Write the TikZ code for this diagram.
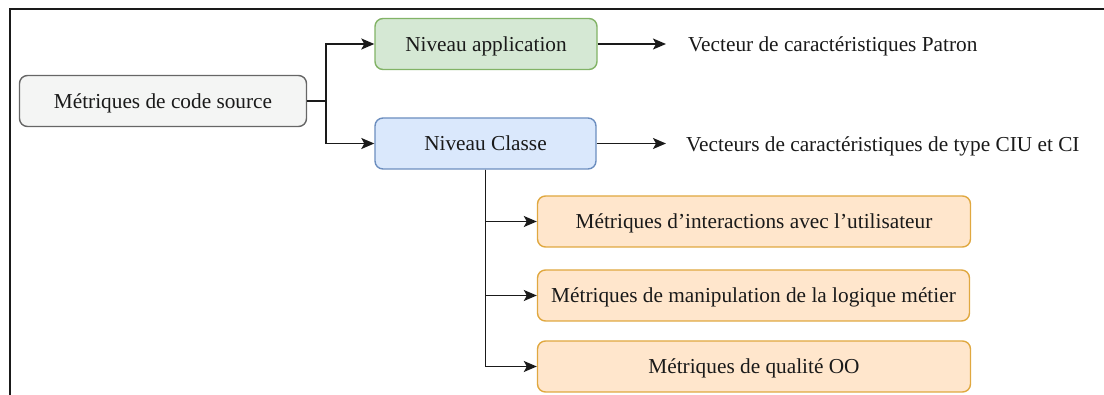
\documentclass[tikz,border=0pt]{standalone}
\usepackage{fontspec}
\setmainfont{Liberation Serif}
\usetikzlibrary{arrows.meta}
\definecolor{txt}{HTML}{1A1A1A}
\definecolor{grayfill}{HTML}{F4F5F4}
\definecolor{graydraw}{HTML}{666666}
\definecolor{greenfill}{HTML}{D5E8D4}
\definecolor{greendraw}{HTML}{82B366}
\definecolor{bluefill}{HTML}{DAE8FC}
\definecolor{bluedraw}{HTML}{6C8EBF}
\definecolor{orangefill}{HTML}{FFE6CC}
\definecolor{orangedraw}{HTML}{E0A840}
\tikzset{
  box/.style={rectangle, rounded corners=8pt, line width=1.4pt, minimum height=51pt, inner sep=0pt, text height=15pt, text depth=0pt, text=txt, font=\fontsize{21.3}{25}\selectfont},
  graybox/.style={box, fill=grayfill, draw=graydraw},
  greenbox/.style={box, fill=greenfill, draw=greendraw},
  bluebox/.style={box, fill=bluefill, draw=bluedraw},
  orangebox/.style={box, fill=orangefill, draw=orangedraw},
  lbl/.style={anchor=base west, inner sep=0pt, text=txt, font=\fontsize{21.3}{25}\selectfont},
  line/.style={draw=txt, line width=1.7pt},
  arr/.style={line, -{Stealth[length=13pt,width=11pt,inset=3pt]}},
  frame/.style={draw=txt, line width=1.7pt}
}
\begin{document}
\begin{tikzpicture}[x=1pt,y=-1pt]
\useasboundingbox (0,0) rectangle (1104,395);
\draw[frame] (10,396) -- (10,9) -- (1105,9);

\node[graybox, minimum width=287pt] (src) at (163,101) {Métriques de code source};
\node[greenbox, minimum width=222pt] (app) at (486,44) {Niveau application};
\node[bluebox, minimum width=221pt] (cls) at (485.5,143.5) {Niveau Classe};
\node[orangebox, minimum width=433pt] (o1) at (754,221.5) {Métriques d’interactions avec l’utilisateur};
\node[orangebox, minimum width=432pt] (o2) at (753.5,295.5) {Métriques de manipulation de la logique métier};
\node[orangebox, minimum width=433pt] (o3) at (754,366.5) {Métriques de qualité OO};

\node[lbl] (v1) at (688,52) {Vecteur de caractéristiques Patron};
\node[lbl] (v2) at (686,152) {Vecteurs de caractéristiques de type CIU et CI};

\coordinate (j) at (326,101);
\coordinate (e1) at (666,44);
\coordinate (e2) at (666,143.5);

\draw[line] (src.east) -- (j);
\draw[arr] (j) |- (app.west);
\draw[arr] (j) |- (cls.west);
\draw[arr] (app.east) -- (e1);
\draw[arr] (cls.east) -- (e2);
\draw[arr] (cls.south) |- (o1.west);
\draw[arr] (cls.south) |- (o2.west);
\draw[arr] (cls.south) |- (o3.west);
\end{tikzpicture}
\end{document}
